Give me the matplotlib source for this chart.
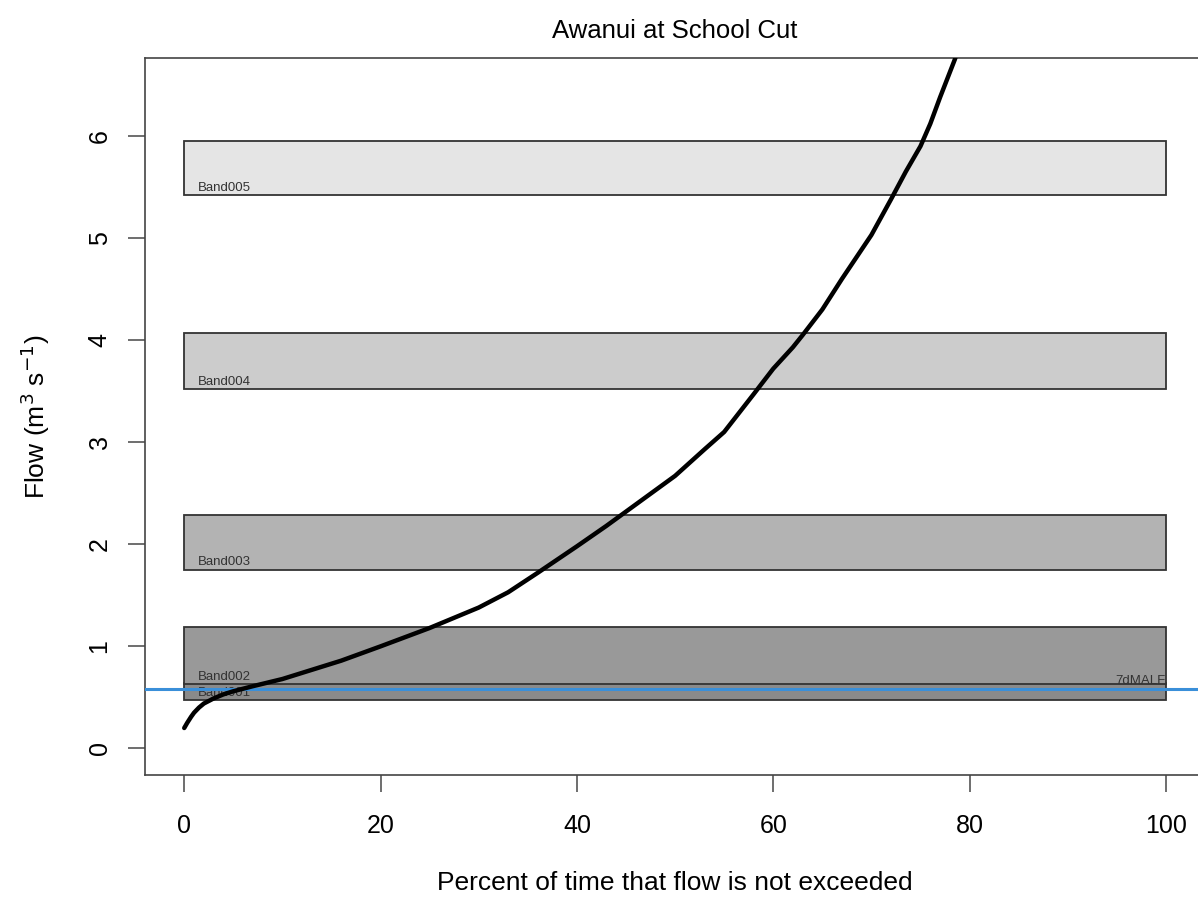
import numpy as np
import matplotlib
matplotlib.use("Agg")
import matplotlib.pyplot as plt
from matplotlib.patches import Rectangle

plt.rcParams["font.family"] = ["Liberation Sans", "DejaVu Sans"]

# flow duration curve
pct = [0, 0.3, 0.7, 1, 1.5, 2, 3, 4, 5, 7, 10, 13, 16, 20, 25, 30, 33, 36, 40, 43, 45, 48, 50, 53, 55, 58, 60, 62, 63, 65, 67, 70, 72, 73.5, 75, 76, 77, 78.5, 80, 90, 100]
flow = [0.2, 0.25, 0.31, 0.35, 0.4, 0.44, 0.49, 0.53, 0.56, 0.61, 0.68, 0.77, 0.86, 1.0, 1.18, 1.38, 1.53, 1.72, 1.98, 2.18, 2.32, 2.53, 2.67, 2.93, 3.1, 3.47, 3.72, 3.93, 4.05, 4.3, 4.6, 5.03, 5.38, 5.65, 5.9, 6.12, 6.38, 6.75, 7.2, 10.0, 20.0]

band_names = ["Band001", "Band002", "Band003", "Band004", "Band005"]
band_low = [0.47, 0.63, 1.75, 3.52, 5.42]
band_high = [0.645, 1.19, 2.29, 4.07, 5.95]
band_cols = ["#8a8a8a", "#999999", "#b3b3b3", "#cccccc", "#e5e5e5"]

malf = 0.587

fig = plt.figure(figsize=(11.98, 8.98), dpi=100)
ax = fig.add_axes([0.121, 0.137, 0.885, 0.798])

for name, lo, hi, c in zip(band_names, band_low, band_high, band_cols):
    ax.add_patch(Rectangle((0, lo), 100, hi - lo, facecolor=c, edgecolor="#333333", linewidth=1.3, zorder=1))
    ax.text(1.4, lo + 0.015, name, fontsize=9.5, color="#333333", ha="left", va="bottom", zorder=2)

ax.axhline(malf, color="#3a8fd9", linewidth=2.2, zorder=3)
ax.text(100, malf + 0.015, "7dMALF", fontsize=9.5, color="#333333", ha="right", va="bottom", zorder=3)

ax.plot(pct, flow, color="black", linewidth=3.2, zorder=4, solid_capstyle="round")

ax.set_xlim(-4, 104)
ax.set_ylim(-0.26, 6.76)
ax.set_xticks([0, 20, 40, 60, 80, 100])
ax.set_yticks([0, 1, 2, 3, 4, 5, 6])
ax.tick_params(axis="both", labelsize=18, length=12, width=1.2, color="#555555")
ax.tick_params(axis="x", pad=16)
ax.tick_params(axis="y", pad=12)
for lab in ax.get_yticklabels():
    lab.set_rotation(90)
    lab.set_va("center")
for s in ax.spines.values():
    s.set_color("#444444")
    s.set_linewidth(1.2)

ax.set_xlabel("Percent of time that flow is not exceeded", fontsize=19, labelpad=24)
ax.set_ylabel(r"Flow (m$^3$ s$^{-1}$)", fontsize=19, labelpad=26)
ax.set_title("Awanui at School Cut", fontsize=18.5, pad=15)

fig.savefig("out.png", dpi=100)
